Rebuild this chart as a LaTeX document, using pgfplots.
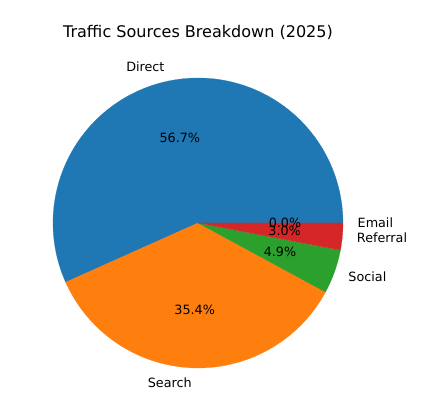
\documentclass[border=0pt]{standalone}
\usepackage{fontspec}
\setmainfont{DejaVu Sans}
\usepackage{pgfplots}
\usepackage{pgfplotstable}
\pgfplotsset{compat=1.18}

% matplotlib tab10 colours
\definecolor{cDirect}{HTML}{1F77B4}
\definecolor{cSearch}{HTML}{FF7F0E}
\definecolor{cSocial}{HTML}{2CA02C}
\definecolor{cReferral}{HTML}{D62728}
\definecolor{cEmail}{HTML}{9467BD}

% shares in percent, start/end angle of each wedge (counter-clockwise from 0 deg)
\pgfplotstableread{
name     share  start   stop
Direct   56.7   0.00    204.12
Search   35.4   204.12  331.56
Social   4.9    331.56  349.20
Referral 3.0    349.20  360.00
Email    0.0    360.00  360.00
}\shares

\newcommand{\pieslice}[3]{%
  \addplot[fill=#1, draw=#1, line width=0.2pt, domain=#2:#3, samples=120]
    ({cos(x)}, {sin(x)}) -- (0,0) -- cycle;}

\tikzset{lbl/.style={inner sep=0pt, font=\fontsize{12.8}{15}\selectfont}}

\begin{document}
\begin{tikzpicture}
\begin{axis}[
    x=145bp, y=145bp,
    xmin=-1.3655, xmax=1.6759,
    ymin=-1.3586, ymax=1.5379,
    hide axis, clip=false,
  ]
  \path (rel axis cs:0,0) rectangle (rel axis cs:1,1);

  \pieslice{cDirect}{0}{204.12}
  \pieslice{cSearch}{204.12}{331.56}
  \pieslice{cSocial}{331.56}{349.2}
  \pieslice{cReferral}{349.2}{360}

  % outer labels (radius 1.1)
  \node[lbl, anchor=east] at (-0.2298, 1.0757) {Direct};
  \node[lbl, anchor=east] at (-0.0422,-1.0992) {Search};
  \node[lbl, anchor=west] at ( 1.0364,-0.3696) {Social};
  \node[lbl, anchor=west] at ( 1.0951,-0.1034) {Referral};
  \node[lbl, anchor=west] at ( 1.1000, 0.0000) {Email};

  % percentages (radius 0.6)
  \node[lbl] at (-0.1254, 0.5867) {56.7\%};
  \node[lbl] at (-0.0230,-0.5996) {35.4\%};
  \node[lbl] at ( 0.5653,-0.2016) {4.9\%};
  \node[lbl] at ( 0.5973,-0.0564) {3.0\%};
  \node[lbl] at ( 0.6000, 0.0000) {0.0\%};

  \node[inner sep=0pt, font=\fontsize{16.1}{19}\selectfont] at (0, 1.317)
    {Traffic Sources Breakdown (2025)};
\end{axis}
\end{tikzpicture}
\end{document}
